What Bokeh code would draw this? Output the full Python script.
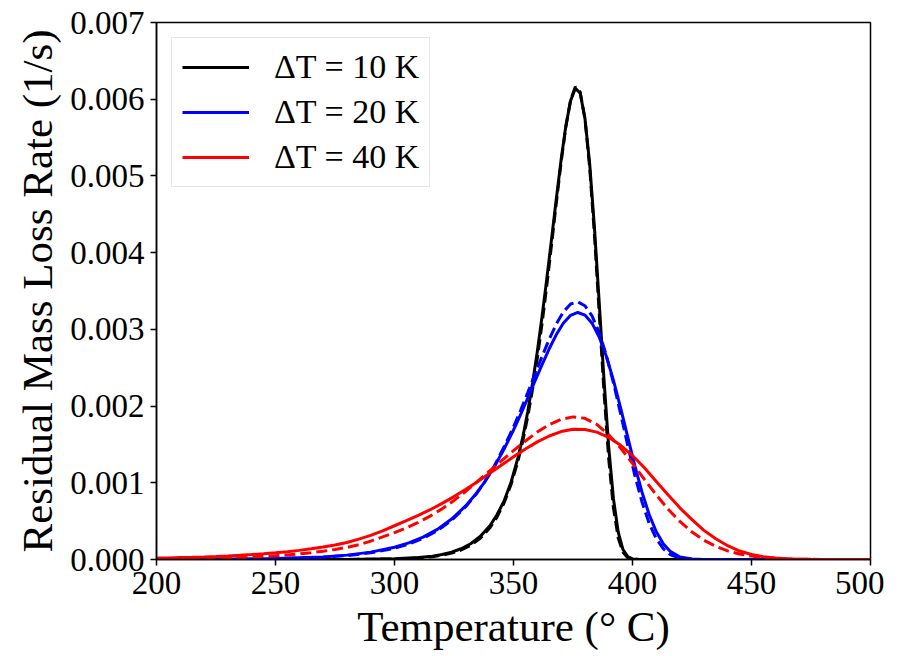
from bokeh.plotting import figure
from bokeh.models import Legend, LegendItem, PrintfTickFormatter, FixedTicker, Range1d, ColumnDataSource
from bokeh.embed import file_html
from bokeh.resources import INLINE

# ---- data ----
temp_dt10 = [200, 250, 280, 300, 310, 316, 320, 324, 328, 332, 336, 340, 343, 346, 349, 352, 354, 356, 358,
             360, 362, 364, 366, 368, 370, 372, 374, 376, 378, 380, 382, 384, 386, 388, 390, 392, 394, 396,
             398, 400, 403, 406, 410, 420, 450, 500]
rate_dt10_model = [0.0, 0.0, 0.000001, 0.000009, 0.000025, 0.000044, 0.000065, 0.000096, 0.000140, 0.000205,
                   0.000300, 0.000435, 0.000580, 0.000760, 0.001010, 0.001340, 0.001610, 0.001930, 0.002300,
                   0.002710, 0.003169, 0.003661, 0.004179, 0.004705, 0.005210, 0.005652, 0.005982, 0.006143,
                   0.006080, 0.005756, 0.005161, 0.004332, 0.003355, 0.002357, 0.001465, 0.000790, 0.000357,
                   0.000130, 0.000037, 0.000008, 0.0, 0.0, 0.0, 0.0, 0.0, 0.0]
rate_dt10_fit = [0.0, 0.0, 0.000001, 0.000007, 0.000020, 0.000037, 0.000056, 0.000083, 0.000124, 0.000185,
                 0.000276, 0.000410, 0.000550, 0.000735, 0.000980, 0.001298, 0.001558, 0.001864, 0.002218,
                 0.002622, 0.003076, 0.003575, 0.004107, 0.004651, 0.005177, 0.005642, 0.005991, 0.006162,
                 0.006096, 0.005750, 0.005116, 0.004238, 0.003217, 0.002195, 0.001314, 0.000670, 0.000281,
                 0.000093, 0.000023, 0.000004, 0.0, 0.0, 0.0, 0.0, 0.0, 0.0]

temp_dt20 = [200, 250, 270, 280, 290, 300, 306, 312, 318, 324, 330, 334, 338, 342, 346, 350, 353, 356, 359,
             362, 365, 368, 371, 374, 377, 380, 383, 386, 389, 392, 395, 398, 401, 404, 407, 410, 413, 416,
             420, 425, 430, 440, 500]
rate_dt20_model = [0.000001, 0.000012, 0.000034, 0.000057, 0.000096, 0.000159, 0.000216, 0.000291, 0.000393,
                   0.000527, 0.000702, 0.000847, 0.001016, 0.001213, 0.001437, 0.001688, 0.001892, 0.002105,
                   0.002324, 0.002541, 0.002747, 0.002932, 0.003082, 0.003183, 0.003220, 0.003186, 0.003081,
                   0.002901, 0.002649, 0.002335, 0.001976, 0.001595, 0.001221, 0.000877, 0.000587, 0.000362,
                   0.000203, 0.000102, 0.000033, 0.000006, 0.000001, 0.0, 0.0]
rate_dt20_fit = [0.000001, 0.000010, 0.000030, 0.000051, 0.000087, 0.000147, 0.000202, 0.000276, 0.000377,
                 0.000511, 0.000691, 0.000840, 0.001016, 0.001222, 0.001466, 0.001727, 0.001946, 0.002176,
                 0.002413, 0.002648, 0.002871, 0.003070, 0.003229, 0.003331, 0.003359, 0.003308, 0.003175,
                 0.002958, 0.002662, 0.002302, 0.001901, 0.001487, 0.001094, 0.000748, 0.000471, 0.000269,
                 0.000138, 0.000062, 0.000017, 0.000002, 0.0, 0.0, 0.0]

temp_dt40 = [200, 205, 210, 215, 220, 225, 230, 235, 240, 245, 250, 255, 260, 265, 270, 275, 280, 285, 290,
             295, 300, 305, 310, 315, 320, 325, 330, 335, 340, 345, 350, 355, 360, 365, 370, 375, 380, 385,
             390, 395, 400, 405, 410, 415, 420, 425, 430, 435, 440, 445, 450, 455, 460, 465, 470, 475, 480,
             485, 490, 495, 500]
rate_dt40_model = [0.000018, 0.000021, 0.000025, 0.000029, 0.000034, 0.000040, 0.000047, 0.000055, 0.000064,
                   0.000075, 0.000088, 0.000102, 0.000119, 0.000139, 0.000162, 0.000190, 0.000222, 0.000265,
                   0.000315, 0.000374, 0.000440, 0.000506, 0.000574, 0.000649, 0.000731, 0.000820, 0.000916,
                   0.001018, 0.001123, 0.001231, 0.001338, 0.001440, 0.001533, 0.001610, 0.001668, 0.001697,
                   0.001695, 0.001660, 0.001592, 0.001489, 0.001355, 0.001195, 0.001016, 0.000840, 0.000670,
                   0.000520, 0.000380, 0.000270, 0.000180, 0.000110, 0.000065, 0.000036, 0.000019, 0.000009,
                   0.000004, 0.000002, 0.000001, 0.0, 0.0, 0.0, 0.0]
rate_dt40_fit = [0.000007, 0.000009, 0.000011, 0.000013, 0.000016, 0.000019, 0.000023, 0.000028, 0.000034,
                 0.000041, 0.000049, 0.000060, 0.000073, 0.000089, 0.000108, 0.000131, 0.000158, 0.000192,
                 0.000240, 0.000295, 0.000350, 0.000412, 0.000484, 0.000566, 0.000660, 0.000770, 0.000890,
                 0.001020, 0.001155, 0.001288, 0.001419, 0.001545, 0.001661, 0.001759, 0.001828, 0.001859,
                 0.001840, 0.001760, 0.001626, 0.001452, 0.001253, 0.001045, 0.000842, 0.000655, 0.000493,
                 0.000358, 0.000252, 0.000171, 0.000112, 0.000071, 0.000044, 0.000026, 0.000015, 0.000008,
                 0.000004, 0.000002, 0.000001, 0.0, 0.0, 0.0, 0.0]

legend_labels = ["ΔT = 10 K", "ΔT = 20 K", "ΔT = 40 K"]
colors = ["#000000", "#0000ff", "#ff0000"]
x_ticks = [200, 250, 300, 350, 400, 450, 500]
y_ticks = [0.000, 0.001, 0.002, 0.003, 0.004, 0.005, 0.006, 0.007]

FONT = "Liberation Serif"

p = figure(output_backend="svg", toolbar_location=None,
           frame_width=714, frame_height=537,
           min_border_left=156, min_border_right=14, min_border_top=22, min_border_bottom=81,
           x_range=Range1d(200, 500), y_range=Range1d(0, 0.007))

series = [
    (temp_dt10, rate_dt10_model, rate_dt10_fit),
    (temp_dt20, rate_dt20_model, rate_dt20_fit),
    (temp_dt40, rate_dt40_model, rate_dt40_fit),
]
items = []
for (t, solid, dashed), col, lab in zip(series, colors, legend_labels):
    src = ColumnDataSource(dict(t=t, solid=solid, dashed=dashed))
    r = p.line("t", "solid", source=src, line_color=col, line_width=3)
    p.line("t", "dashed", source=src, line_color=col, line_width=3, line_dash="11 5")
    items.append(LegendItem(label=lab, renderers=[r]))

legend = Legend(items=items, location="top_left")
legend.label_text_font = FONT
legend.label_text_font_size = "34px"
legend.label_text_color = "black"
legend.glyph_width = 67
legend.glyph_height = 30
legend.label_standoff = 25
legend.label_height = 30
legend.padding = 10
legend.spacing = 7
legend.margin = 15
legend.border_line_color = "#cccccc"
legend.border_line_width = 1.5
legend.background_fill_alpha = 1.0
p.add_layout(legend)

p.xgrid.visible = False
p.ygrid.visible = False
p.outline_line_color = "black"
p.outline_line_width = 1.5

p.xaxis.ticker = FixedTicker(ticks=x_ticks)
p.yaxis.ticker = FixedTicker(ticks=y_ticks)
p.yaxis.formatter = PrintfTickFormatter(format="%.3f")
p.xaxis.axis_label = "Temperature (° C)"
p.yaxis.axis_label = "Residual Mass Loss Rate (1/s)"
for ax in (p.xaxis, p.yaxis):
    ax.axis_label_text_font = FONT
    ax.axis_label_text_font_style = "normal"
    ax.axis_label_text_font_size = "43px"
    ax.axis_label_text_color = "black"
    ax.major_label_text_font = FONT
    ax.major_label_text_font_size = "33px"
    ax.major_label_text_color = "black"
    ax.major_tick_in = 0
    ax.major_tick_out = 6
    ax.minor_tick_out = 0
    ax.minor_tick_in = 0
    ax.axis_line_width = 1.5
    ax.major_tick_line_width = 1.5
    ax.axis_label_standoff = 6
    ax.major_label_standoff = 6

p.background_fill_color = "white"
p.border_fill_color = "white"

open("out.html", "w").write(file_html(p, INLINE))
